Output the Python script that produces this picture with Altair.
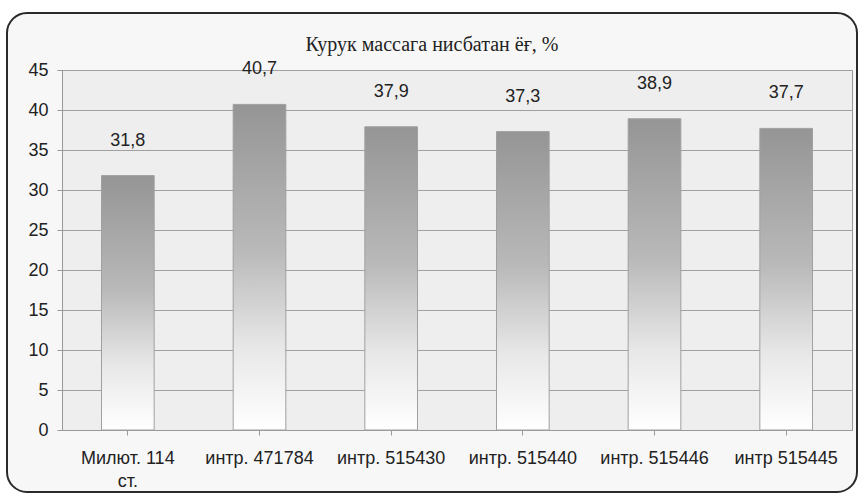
import altair as alt
import pandas as pd

# Dry-mass fat content of each sample, %
categories = ["Милют. 114|ст.", "интр. 471784", "интр. 515430",
              "интр. 515440", "интр. 515446", "интр 515445"]
values = [31.8, 40.7, 37.9, 37.3, 38.9, 37.7]
value_labels = ["31,8", "40,7", "37,9", "37,3", "38,9", "37,7"]
y_ticks = [0, 5, 10, 15, 20, 25, 30, 35, 40, 45]
title_text = "Курук массага нисбатан ёғ, %"

df = pd.DataFrame({"sample": categories, "value": values, "label": value_labels})

PLOT_W, PLOT_H = 790, 360

x_enc = alt.X(
    "sample:N", sort=categories, title=None,
    scale=alt.Scale(paddingInner=0.6, paddingOuter=0.3),
    axis=alt.Axis(
        labelExpr="split(datum.label, '|')", labelAngle=0, labelPadding=14,
        labelFont="Liberation Sans", labelFontSize=18, labelColor="#222",
        labelLineHeight=23, labelBaseline="top", labelOverlap=False,
        domainColor="#999", tickColor="#999", tickSize=5, grid=False,
    ),
)

y_enc = alt.Y(
    "value:Q", title=None,
    scale=alt.Scale(domain=[0, 45], nice=False),
    axis=alt.Axis(
        values=y_ticks, labelFont="Liberation Sans", labelFontSize=18,
        labelColor="#222", labelPadding=9, labelOverlap=False,
        domainColor="#999", tickColor="#999", tickSize=5,
        gridColor="#a0a0a0", gridWidth=1,
    ),
)

one = pd.DataFrame({"title": [title_text]})

# white mask outside the rounded frame (stroke only, so the axes stay visible)
outer_mask = alt.Chart(one).mark_rect(
    fill=None, stroke="white", strokeWidth=40, cornerRadius=40, clip=False,
).encode(
    x=alt.value(-55 - 20), x2=alt.value(PLOT_W + 5 + 20),
    y=alt.value(-57 - 20), y2=alt.value(PLOT_H + 62 + 20),
)

# rounded outer frame around the whole chart
frame = alt.Chart(one).mark_rect(
    fill=None, stroke="#2a2a2a", strokeWidth=2, cornerRadius=20, clip=False,
).encode(
    x=alt.value(-55), x2=alt.value(PLOT_W + 5),
    y=alt.value(-57), y2=alt.value(PLOT_H + 62),
)

# chart heading, centred on the frame
heading = alt.Chart(one).mark_text(
    font="Liberation Serif", fontSize=20, color="#222", baseline="middle",
    align="center", clip=False,
).encode(x=alt.value(370), y=alt.value(-25), text="title:N")

bars = alt.Chart(df).mark_bar(
    color=alt.Gradient(
        gradient="linear", x1=0, y1=0, x2=0, y2=1,
        stops=[
            alt.GradientStop(color="#959595", offset=0),
            alt.GradientStop(color="#b9b9b9", offset=0.45),
            alt.GradientStop(color="#e8e8e8", offset=0.75),
            alt.GradientStop(color="#ffffff", offset=1),
        ],
    ),
    stroke="#a0a0a0", strokeWidth=1,
).encode(x=x_enc, y=y_enc)

labels = alt.Chart(df).mark_text(
    font="Liberation Sans", fontSize=18, color="#222", baseline="middle", dy=-35,
).encode(x=x_enc, y=y_enc, text="label:N")

chart = alt.layer(bars, labels, outer_mask, frame, heading).properties(
    width=PLOT_W, height=PLOT_H,
    padding={"left": 62, "top": 70, "right": 12, "bottom": 66},
    autosize=alt.AutoSizeParams(type="none"),
    background="#f7f7f7",
).configure_view(stroke="#999", strokeWidth=1, fill="#eeeeee")

chart.save("out.html", embed_options={"renderer": "svg", "actions": False})
